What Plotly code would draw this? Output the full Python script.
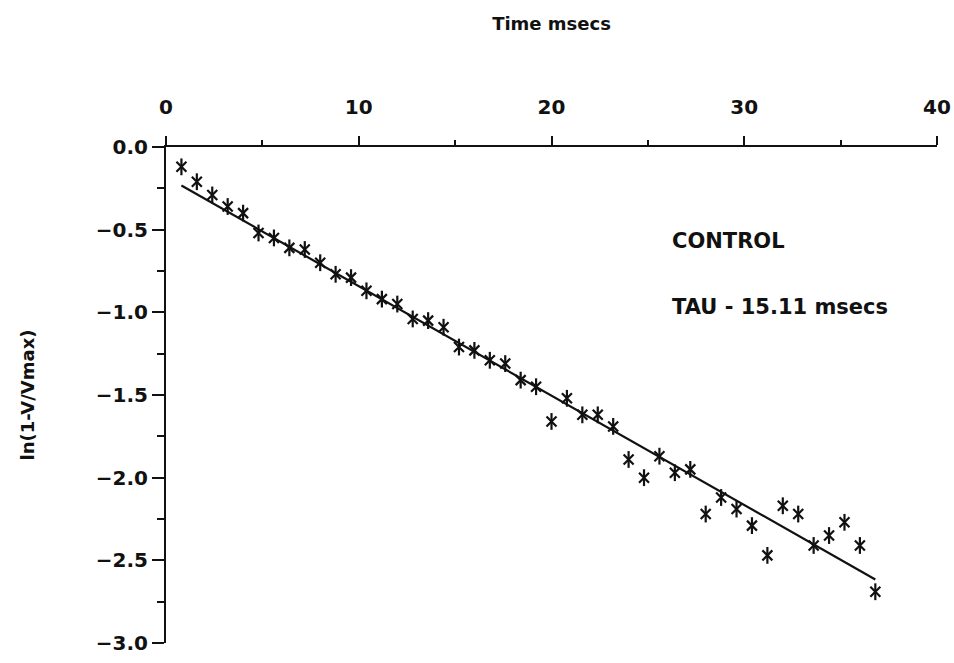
import plotly.graph_objects as go

# Sample times (ms) and log-normalised voltage ln(1 - V/Vmax)
time_ms = [0.8, 1.6, 2.4, 3.2, 4.0, 4.8, 5.6, 6.4, 7.2, 8.0,
           8.8, 9.6, 10.4, 11.2, 12.0, 12.8, 13.6, 14.4, 15.2, 16.0,
           16.8, 17.6, 18.4, 19.2, 20.0, 20.8, 21.6, 22.4, 23.2, 24.0,
           24.8, 25.6, 26.4, 27.2, 28.0, 28.8, 29.6, 30.4, 31.2, 32.0,
           32.8, 33.6, 34.4, 35.2, 36.0, 36.8]
ln_v = [-0.12, -0.21, -0.29, -0.36, -0.40, -0.52, -0.55, -0.61, -0.62, -0.70,
        -0.77, -0.79, -0.87, -0.92, -0.95, -1.04, -1.05, -1.09, -1.21, -1.23,
        -1.29, -1.31, -1.41, -1.45, -1.66, -1.52, -1.62, -1.62, -1.69, -1.89,
        -2.00, -1.87, -1.97, -1.95, -2.22, -2.12, -2.19, -2.29, -2.47, -2.17,
        -2.22, -2.41, -2.35, -2.27, -2.41, -2.69]

# Linear fit: slope = -1/TAU
TAU_MS = 15.11
FIT_INTERCEPT = -0.18
fit_t = [time_ms[0], time_ms[-1]]
fit_y = [FIT_INTERCEPT - t / TAU_MS for t in fit_t]

x_ticks = [0, 10, 20, 30, 40]
y_ticks = [0.0, -0.5, -1.0, -1.5, -2.0, -2.5, -3.0]

FONT = "DejaVu Sans"
INK = "#111111"

fig = go.Figure()

# six-armed asterisk markers: an X plus a vertical bar
for sym in ("x-thin", "line-ns"):
    fig.add_trace(go.Scatter(
        x=time_ms, y=ln_v, mode="markers",
        marker=dict(symbol=sym, size=10 if sym == "x-thin" else 12,
                    line=dict(color=INK, width=2.2), color=INK),
        showlegend=False, hoverinfo="x+y",
    ))

fig.add_trace(go.Scatter(
    x=fit_t, y=fit_y, mode="lines",
    line=dict(color=INK, width=2.2), showlegend=False,
))

fig.add_annotation(x=26.15, y=-0.57, text="CONTROL", showarrow=False,
                   xanchor="left", yanchor="middle",
                   font=dict(family=FONT, size=21, color=INK, weight="bold"))
fig.add_annotation(x=26.15, y=-0.97, text=f"TAU - {TAU_MS:.2f} msecs", showarrow=False,
                   xanchor="left", yanchor="middle",
                   font=dict(family=FONT, size=21, color=INK, weight="bold"))

fig.update_layout(
    width=954, height=663,
    margin=dict(l=166, r=17, t=147, b=20),
    paper_bgcolor="white", plot_bgcolor="white",
    font=dict(family=FONT, color=INK),
    xaxis=dict(
        side="top", range=[0, 40], tickvals=x_ticks, automargin=False,
        showline=True, linecolor=INK, linewidth=2,
        ticks="outside", ticklen=9, tickwidth=2, tickcolor=INK,
        minor=dict(dtick=5, ticks="outside", ticklen=5, tickwidth=2, tickcolor=INK),
        ticklabelstandoff=14,
        tickfont=dict(family=FONT, size=20, color=INK, weight="bold"),
        showgrid=False, zeroline=False,
        title=dict(text="Time msecs", standoff=60,
                   font=dict(family=FONT, size=18, color=INK, weight="bold")),
    ),
    yaxis=dict(
        range=[-3, 0], tickvals=y_ticks, tickformat=".1f", automargin=False,
        showline=True, linecolor=INK, linewidth=2,
        ticks="outside", ticklen=12, tickwidth=2, tickcolor=INK,
        minor=dict(dtick=0.25, ticks="outside", ticklen=7, tickwidth=2, tickcolor=INK),
        tickfont=dict(family=FONT, size=20, color=INK, weight="bold"),
        showgrid=False, zeroline=False,
        title=dict(text="ln(1-V/Vmax)", standoff=57,
                   font=dict(family=FONT, size=18, color=INK, weight="bold")),
    ),
)

fig.write_html("out.html")
